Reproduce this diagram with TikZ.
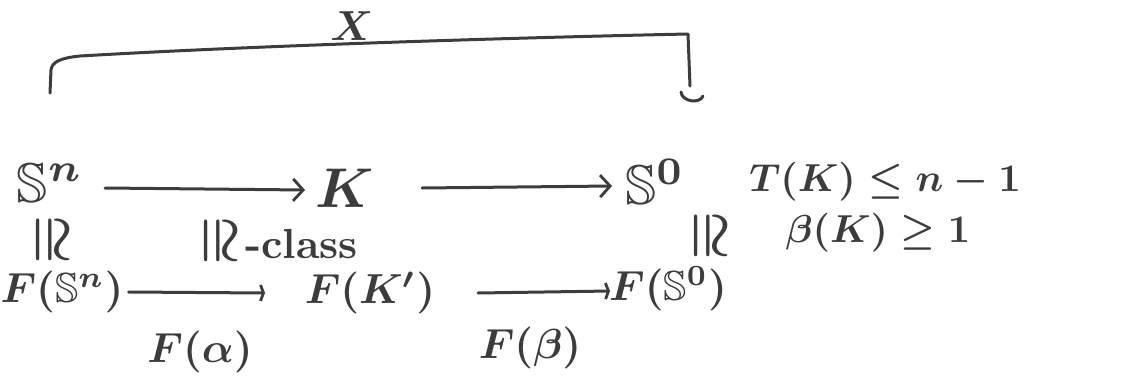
\documentclass[tikz,border=0pt]{standalone}
\usepackage{amssymb}
\usepackage{graphicx}
\usetikzlibrary{arrows.meta}
\definecolor{ink}{HTML}{3C3C3C}
\newcommand\myL[1]{\scalebox{5.6}{\boldmath\bfseries#1}}
\newcommand\myM[1]{\scalebox{4.2}{\boldmath\bfseries#1}}
\newcommand\myT[1]{\scalebox{3.9}{\boldmath\bfseries#1}}
\newcommand\myS[1]{\scalebox{4.2}{\boldmath\bfseries#1}}
\newcommand\vcong{\rotatebox[origin=c]{-90}{\scalebox{1.3}{$\cong$}}}
\begin{document}
\begin{tikzpicture}[x=1pt,y=-1pt,
  every node/.style={inner sep=1pt,text=ink},
  map/.style={draw=ink,line width=3pt,line cap=round,-{Straight Barb[length=10pt,width=22pt,line width=2.8pt]}},
  mapb/.style={draw=ink,line width=3pt,line cap=round,-{Straight Barb[length=3pt,width=16pt,line width=2.8pt]}},
  brace/.style={draw=ink,line width=3pt,line cap=round,line join=round}]
\useasboundingbox (0,0) rectangle (1133,378);
% top row
\node (Sn) at (50,183) {\myL{$\mathbb{S}^n$}};
\node (K)  at (345,188) {\myL{$K$}};
\node (S0) at (655,182) {\myL{$\mathbb{S}^0$}};
\node (T)  at (885,182) {\myT{$T(K)\le n-1$}};
\node (B)  at (878,233) {\myT{$\beta(K)\ge 1$}};
\draw[map] (105,188) -- (305,190);
\draw[map] (422,188) -- (612,186);
% isomorphisms
\node (i1) at (50,240) {\myS{\vcong}};
\node (i2) at (278,241) {\myS{\vcong\,-class}};
\node (i3) at (708,236) {\myS{\vcong}};
% bottom row
\node (FSn) at (62,292) {\myM{$F(\mathbb{S}^n)$}};
\node (FK)  at (370,293) {\myM{$F(K')$}};
\node (FS0) at (668,289) {\myM{$F(\mathbb{S}^0)$}};
\draw[mapb] (FSn.east) ++(4,0) -- (265,293);
\draw[mapb] (478,293) -- (610,291);
\node (Fa) at (200,352) {\myM{$F(\alpha)$}};
\node (Fb) at (530,348) {\myM{$F(\beta)$}};
% map X
\coordinate (xs) at (50,93);
\coordinate (xe) at (690,86);
\draw[brace] (xs) -- (51,70) .. controls (52,62) and (60,58) .. (80,56)
  .. controls (250,46) and (500,38) .. (688,34) -- (xe);
\draw[brace] (681,92) .. controls (682,102) and (700,104) .. (703,96);
\node (X) at (352,26) {\myS{$X$}};
\end{tikzpicture}
\end{document}
